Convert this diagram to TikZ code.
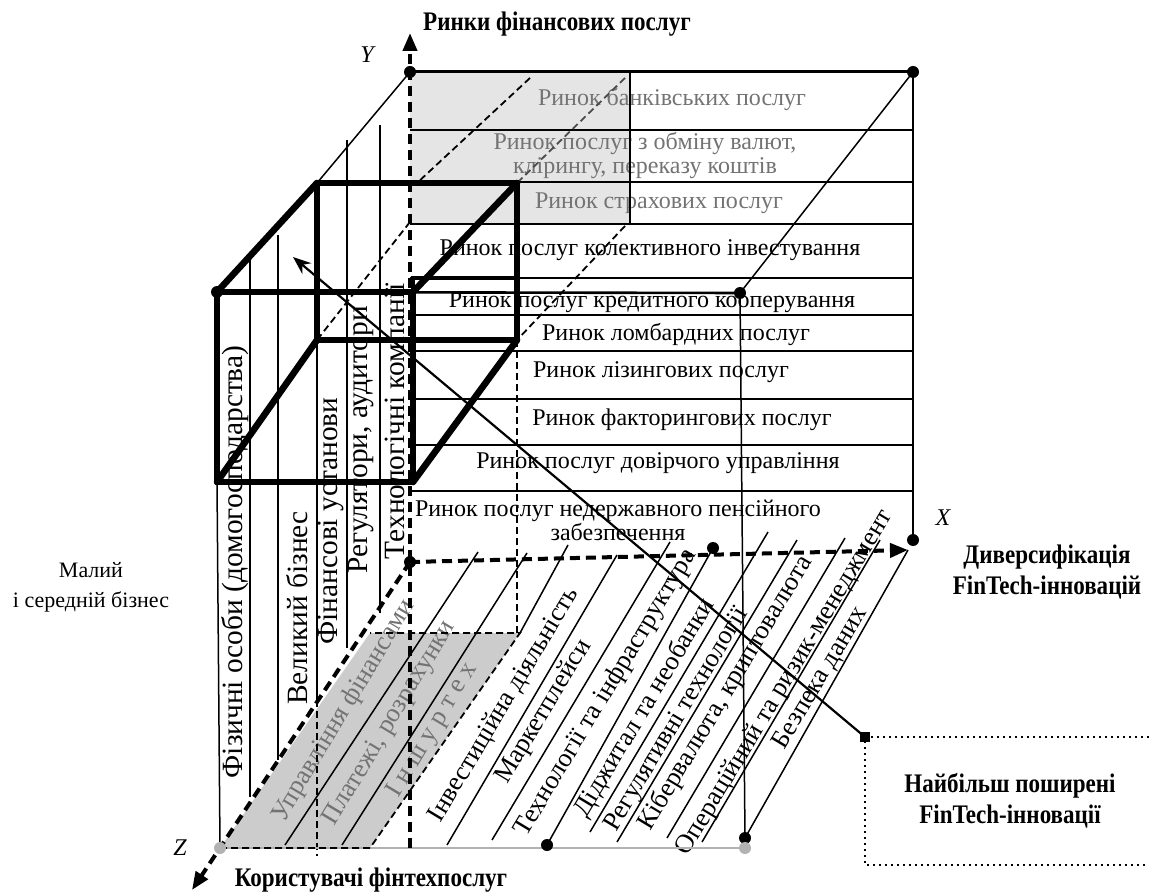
\documentclass[tikz,border=0pt]{standalone}
\usepackage{fontspec}
\setmainfont{Liberation Serif}
\newfontfamily\condfont[FakeStretch=0.86]{Liberation Serif}
\usetikzlibrary{arrows.meta}
\begin{document}
\begin{tikzpicture}[x=0.5pt,y=-0.5pt,
  thinl/.style={line width=0.75pt},
  rowl/.style={line width=0.9pt},
  thickl/.style={line width=3.3pt,line cap=round,line join=round},
  axisl/.style={line width=2pt,dash pattern=on 5pt off 3pt},
  hidl/.style={line width=0.9pt,dash pattern=on 3.5pt off 2pt},
  dotn/.style={circle,fill=black,inner sep=0pt,minimum size=6pt},
  gdotn/.style={circle,fill=black!30,inner sep=0pt,minimum size=6pt},
  rowt/.style={font=\fontsize{12}{12}\selectfont,align=center,inner sep=0pt},
  grayt/.style={text=black!55},
  colt/.style={font=\fontsize{14.7}{14.7}\selectfont,rotate=90,inner sep=0pt},
  stript/.style={font=\fontsize{13.2}{13.2}\selectfont,rotate=59,inner sep=0pt},
  boldl/.style={font=\condfont\bfseries\fontsize{13.4}{15.5}\selectfont,align=center,inner sep=0pt},
  plainl/.style={font=\fontsize{11}{15}\selectfont,align=center,inner sep=0pt},
  axlbl/.style={font=\itshape\fontsize{12}{12}\selectfont,inner sep=0pt},
]
\useasboundingbox (0,0) rectangle (1149,892);

% ---------- key points ----------
\coordinate (O) at (410,562);
\coordinate (Ytop) at (410,72);
\coordinate (Ytip) at (410,33);
\coordinate (Ybot) at (410,848);
\coordinate (BRt) at (913,72);
\coordinate (BRb) at (913,540);
\coordinate (Xtip) at (908,550);
\coordinate (FTL) at (217,292);
\coordinate (FTR) at (740,293);
\coordinate (FBR) at (745,838);
\coordinate (FBL) at (220,848);
\coordinate (FBRg) at (745,848);
\coordinate (Ztip) at (192,890);
\coordinate (Xdot) at (713,548);
\coordinate (Bdot) at (547,845);
\coordinate (BoxC) at (865,737);
\coordinate (ArrTip) at (293,257);

% ---------- fills ----------
\fill[black!10] (410,72) rectangle (630,224);
\fill[black!20] (220,848) -- (370,848) -- (520,633) -- (370,633) -- cycle;

% ---------- row texts (back face) ----------
\node[rowt,grayt] (r1) at (672,100) {Ринок банківських послуг};
\node[rowt,grayt] (r2) at (645,156) {Ринок послуг з обміну валют,\\клірингу, переказу коштів};
\node[rowt,grayt] (r3) at (659,203) {Ринок страхових послуг};
\node[rowt] (r4) at (650,250) {Ринок послуг колективного інвестування};
\node[rowt] (r5) at (652,302) {Ринок послуг кредитного кооперування};
\node[rowt] (r6) at (676,335) {Ринок ломбардних послуг};
\node[rowt] (r7) at (661,372) {Ринок лізингових послуг};
\node[rowt] (r8) at (682,420) {Ринок факторингових послуг};
\node[rowt] (r9) at (658,463) {Ринок послуг довірчого управління};
\node[rowt] (r10) at (618,520) {Ринок послуг недержавного пенсійного\\забезпечення};

% ---------- column texts (left face) ----------
\node[colt] (c1) at (235,562) {Фізичні особи (домогосподарства)};
\node[colt] (c2) at (297,608) {Великий бізнес};
\node[colt] (c3) at (331,521) {Фінансові установи};
\node[colt] (c4) at (361,440) {Регулятори, аудитори};
\node[colt] (c5) at (395,421) {Технологічні компанії};

% ---------- strip texts (bottom face) ----------
\node[stript,grayt] (s1) at (344,711) {Управління фінансами};
\node[stript,grayt] (s2) at (390,723) {Платежі, розрахунки};
\node[stript,grayt] (s3) at (433,730) {І н ш у р т е х};
\node[stript] (s4) at (504,705) {Інвестиційна діяльність};
\node[stript] (s5) at (544,712) {Маркетплейси};
\node[stript] (s6) at (606,693) {Технології та інфраструктура};
\node[stript] (s7) at (645,708) {Діджитал та необанки};
\node[stript] (s8) at (677,720) {Регулятивні технології};
\node[stript] (s9) at (726,693) {Кібервалюта, криптовалюта};
\node[stript] (s10) at (785,683) {Операційний та ризик-менеджмент};
\node[stript] (s11) at (821,678) {Безпека даних};

% ---------- labels ----------
\node[boldl] (tTitle) at (557,24) {Ринки фінансових послуг};
\node[boldl] (tUsers) at (371,880) {Користувачі фінтехпослуг};
\node[boldl] (tDiv) at (1047,572) {Диверсифікація\\FinTech-інновацій};
\node[boldl] (tMost) at (1010,801) {Найбільш поширені\\FinTech-інновації};
\node[plainl] (tSME) at (91,587) {Малий\\і середній бізнес};
\node[axlbl] (lY) at (367,55) {Y};
\node[axlbl] (lX) at (943,518) {X};
\node[axlbl] (lZ) at (180,848) {Z};

% ---------- back face lines ----------
\draw[line width=1.5pt] (Ytop) -- (BRt);
\draw[line width=1.1pt] (630,72) -- (630,224);
\foreach \yy in {130,182,224,278,315,351,399,445,491}
  \draw[rowl] (410,\yy) -- (913,\yy);
\draw[thinl] (BRt) -- (BRb);
\draw[thinl] (Ytop) -- (317,183);
\draw[thinl] (BRt) -- (FTR);
\draw[line width=1.3pt] (FTL) -- (FTR);
\draw[thinl] (FTR) -- (FBR);

% ---------- left face column lines ----------
\draw[thinl] (217,482) -- (FBL);
\draw[thinl] (250,260) -- (250,797);
\draw[thinl] (278,235) -- (278,760);
\draw[thinl] (317,183) -- (317,700);
\draw[hidl] (317,700) -- (317,856);
\draw[thinl] (347,140) -- (347,648);
\draw[thinl] (380,125) -- (380,613);

% ---------- bottom face strip lines ----------
\draw[thinl] (285,845) -- (478,552);
\draw[thinl] (342,845) -- (527,553);
\draw[thinl] (520,633) -- (568,545);
\draw[thinl] (447,845) -- (617,555);
\draw[thinl] (492,840) -- (670,542);
\draw[thinl] (Bdot) -- (Xdot);
\draw[thinl] (590,832) -- (768,532);
\draw[thinl] (617,842) -- (797,540);
\draw[thinl] (667,838) -- (845,538);
\draw[thinl] (702,842) -- (880,540);
\draw[thinl] (FBR) -- (Xtip);
\draw[line width=1.4pt,black!30] (FBL) -- (FBRg);

% ---------- hidden (dashed) edges ----------
\draw[hidl] (530,78) -- (417,183);
\draw[hidl,black!70] (625,78) -- (517,183);
\draw[hidl] (410,222) -- (317,340);
\draw[hidl] (625,226) -- (517,340);
\draw[hidl] (517,340) -- (517,633);
\draw[hidl] (220,848) -- (370,848) -- (520,633) -- (370,633);

% ---------- axes ----------
\draw[axisl,-{Triangle[length=9pt,width=7pt]}] (Ybot) -- (Ytip);
\draw[axisl,-{Triangle[length=9pt,width=7pt]}] (O) -- (Xtip);
\draw[axisl,-{Triangle[length=9pt,width=7pt]}] (O) -- (Ztip);

% ---------- thick cube ----------
\draw[thickl] (217,292) -- (413,292) -- (413,482) -- (217,482) -- cycle;
\draw[thickl] (317,183) -- (517,183) -- (517,340) -- (317,340) -- cycle;
\draw[thickl] (217,292) -- (317,183);
\draw[thickl] (413,292) -- (517,183);
\draw[thickl] (217,482) -- (317,340);
\draw[thickl] (413,482) -- (517,340);
\draw[line width=2.2pt] (413,292) -- (413,278) -- (517,278);

% ---------- pointer and box ----------
\draw[line width=1.1pt,-{Stealth[length=9pt,width=7pt]}] (BoxC) -- (ArrTip);
\draw[line width=1pt,dotted] (1149,737) -- (BoxC) -- (865,865) -- (1149,865);
\fill (860,732) rectangle (870,742);

% ---------- dots ----------
\node[dotn] (d1) at (Ytop) {};
\node[dotn] (d2) at (BRt) {};
\node[dotn] (d3) at (FTL) {};
\node[dotn] (d4) at (FTR) {};
\node[dotn] (d5) at (O) {};
\node[dotn] (d6) at (BRb) {};
\node[dotn] (d7) at (Xdot) {};
\node[dotn] (d8) at (Bdot) {};
\node[dotn] (d9) at (FBR) {};
\node[gdotn] (d10) at (FBL) {};
\node[gdotn] (d11) at (FBRg) {};
\end{tikzpicture}
\end{document}
